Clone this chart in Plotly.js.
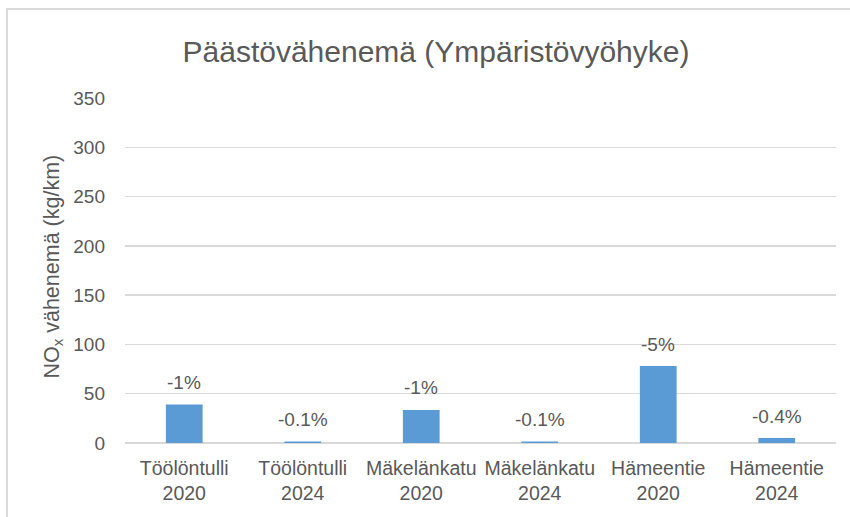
<!DOCTYPE html>
<html>
<head>
<meta charset="utf-8">
<script src="https://cdn.plot.ly/plotly-3.0.1.min.js"></script>
<style>
html, body { margin: 0; padding: 0; background: #fff; }
#wrap { position: relative; width: 850px; height: 517px; }
#chart { width: 850px; height: 517px; }
#frame { position: absolute; left: 6px; top: 8px; width: 860px; height: 530px; border-left: 2px solid #d9d9d9; border-top: 2px solid #d9d9d9; pointer-events: none; }
</style>
</head>
<body>
<div id="wrap">
<div id="chart"></div>
<div id="frame"></div>
</div>
<script>
const categories = ["Töölöntulli<br>2020", "Töölöntulli<br>2024", "Mäkelänkatu<br>2020", "Mäkelänkatu<br>2024", "Hämeentie<br>2020", "Hämeentie<br>2024"];
const values = [39, 1.5, 33.5, 1.5, 78, 5];
const labels = ["-1%", "-0.1%", "-1%", "-0.1%", "-5%", "-0.4%"];
const yTicks = [0, 50, 100, 150, 200, 250, 300, 350];

const FONT = "Liberation Sans, Arial, sans-serif";
const GREY = "#595959";

const trace = {
  type: "bar",
  x: categories,
  y: values,
  marker: { color: "#5B9BD5" },
  width: 0.31,
  hoverinfo: "skip"
};

const annotations = categories.map((c, i) => ({
  x: c,
  y: values[i],
  xref: "x",
  yref: "y",
  text: labels[i],
  showarrow: false,
  yanchor: "middle",
  yshift: 22,
  font: { family: FONT, size: 19, color: GREY }
}));

annotations.push({
  xref: "paper", yref: "paper",
  x: -0.101, y: 0.512,
  text: "NO<sub>x</sub> vähenemä (kg/km)",
  textangle: -90,
  showarrow: false,
  xanchor: "center", yanchor: "middle",
  font: { family: FONT, size: 21.5, color: GREY }
});

const layout = {
  width: 850,
  height: 517,
  margin: { l: 125, r: 14, t: 97.6, b: 74.3 },
  paper_bgcolor: "rgba(0,0,0,0)",
  plot_bgcolor: "#fff",
  showlegend: false,
  title: {
    text: "Päästövähenemä (Ympäristövyöhyke)",
    font: { family: FONT, size: 30, color: GREY },
    x: 436 / 850,
    xanchor: "center",
    xref: "container",
    y: 1 - 51 / 517,
    yanchor: "middle",
    yref: "container"
  },
  xaxis: {
    type: "category",
    tickfont: { family: FONT, size: 19.5, color: GREY },
    showgrid: false,
    zeroline: false,
    showline: false,
    ticks: "",
    ticklabelstandoff: 11,
    fixedrange: true
  },
  yaxis: {
    range: [0, 350],
    tickvals: yTicks,
    ticktext: yTicks.map(String),
    tickfont: { family: FONT, size: 19, color: GREY },
    showgrid: true,
    gridcolor: "#d9d9d9",
    gridwidth: 1.5,
    zeroline: true,
    zerolinecolor: "#d9d9d9",
    zerolinewidth: 1.5,
    showline: false,
    ticks: "",
    ticklabelstandoff: 19,
    fixedrange: true
  },
  annotations: annotations
};

Plotly.newPlot("chart", [trace], layout, { displayModeBar: false, staticPlot: true });
</script>
</body>
</html>
